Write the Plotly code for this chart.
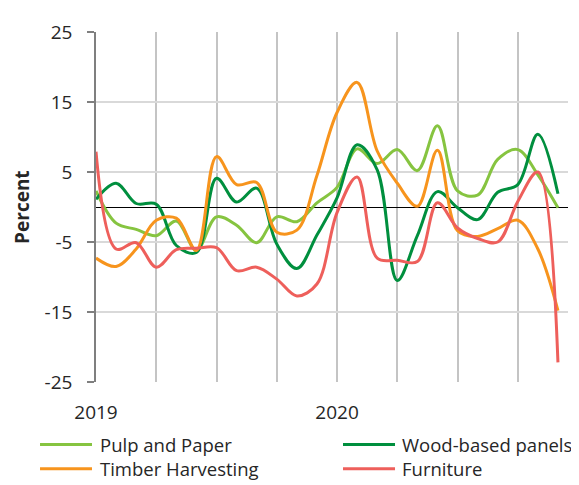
import plotly.graph_objects as go

months = ["2019-01", "2019-02", "2019-03", "2019-04", "2019-05", "2019-06",
          "2019-07", "2019-08", "2019-09", "2019-10", "2019-11", "2019-12",
          "2020-01", "2020-02", "2020-03", "2020-04", "2020-05", "2020-06",
          "2020-07", "2020-08", "2020-09", "2020-10", "2020-11", "2020-12"]

pulp_paper = [2.3, -2.3, -3.2, -4.1, -2.0, -6.2, -1.4, -2.6, -5.1, -1.4, -2.1, 0.6,
              2.8, 8.3, 6.2, 8.2, 5.2, 11.6, 2.3, 1.7, 6.8, 8.2, 4.6, -0.1]
wood_panels = [1.1, 3.4, 0.5, 0.4, -5.5, -6.5, 4.1, 0.7, 2.7, -5.3, -8.8, -4.0,
               1.3, 8.9, 5.3, -10.5, -4.1, 2.2, -0.1, -1.8, 2.1, 3.2, 10.4, 1.9]
timber = [-7.3, -8.5, -6.0, -1.9, -1.6, -6.2, 7.2, 3.2, 3.5, -3.6, -3.3, 4.5,
          13.5, 17.8, 8.0, 3.4, 0.1, 8.1, -3.4, -4.2, -3.1, -1.9, -6.0, -14.8]
furniture = [7.9, -6.0, -5.1, -8.6, -6.1, -5.9, -5.8, -9.1, -8.6, -10.3, -12.7, -11.0,
             -0.8, 4.3, -7.3, -7.6, -7.8, 0.6, -3.0, -4.5, -5.0, 0.8, 5.0, -22.2]

year_ticks = ["2019", "", "", "", "2020", "", "", ""]
y_ticks = [-25, -15, -5, 5, 15, 25]

series = [
    ("Pulp and Paper", pulp_paper, "#86c440"),
    ("Wood-based panels", wood_panels, "#008f3e"),
    ("Timber Harvesting", timber, "#f7941d"),
    ("Furniture", furniture, "#ee5f5b"),
]

FONT = "Open Sans"
TXT = "#262626"
FS = 19
LFS = 18.5

fig = go.Figure()
for name, vals, col in series:
    fig.add_trace(go.Scatter(
        x=months, y=vals, name=name, mode="lines", showlegend=False,
        line=dict(color=col, width=3, shape="spline", smoothing=1),
    ))

# legend key (two columns, two rows) drawn in paper coordinates
leg_cols = [(-0.1186, -0.0085, 0.0042), (0.5233, 0.6335, 0.644)]
leg_rows = [-0.1789, -0.2479]
shapes = []
col_text = {0: [], 1: []}
for i, (name, vals, col) in enumerate(series):
    r, c = divmod(i, 2)
    x0, x1, xt = leg_cols[c]
    yy = leg_rows[r]
    shapes.append(dict(type="line", xref="paper", yref="paper",
                       x0=x0, x1=x1, y0=yy, y1=yy,
                       line=dict(color=col, width=3)))
    col_text[c].append(name)

annotations = []
for c in (0, 1):
    annotations.append(dict(
        text="<br>".join(col_text[c]), xref="paper", yref="paper",
        x=leg_cols[c][2], y=sum(leg_rows) / 2, xanchor="left", yanchor="middle",
        align="left", showarrow=False,
        font=dict(family=FONT, size=LFS, color=TXT)))

annotations.append(dict(
    text="<b>Percent</b>", xref="paper", yref="paper",
    x=-0.157, y=0.5, xanchor="center", yanchor="middle",
    textangle=-90, showarrow=False,
    font=dict(family=FONT, size=FS, color=TXT),
))

fig.update_layout(
    width=571, height=477,
    margin=dict(l=88, r=11, t=19, b=103),
    paper_bgcolor="white", plot_bgcolor="white",
    font=dict(family=FONT, size=FS, color=TXT),
    showlegend=False,
    shapes=shapes,
    annotations=annotations,
)

fig.update_xaxes(
    type="category", range=[0, 23.5],
    tickvals=months[::3], ticktext=year_ticks,
    showgrid=True, gridcolor="#c4c4c4", gridwidth=1.5,
    ticks="outside", ticklen=13, tickcolor="rgba(0,0,0,0)",
    showline=False, zeroline=False,
    tickfont=dict(family=FONT, size=FS, color=TXT),
)
fig.update_yaxes(
    range=[-25, 25], tickvals=y_ticks, ticktext=[str(v) for v in y_ticks],
    showgrid=True, gridcolor="#d9d9d9", gridwidth=1.5,
    showline=True, linecolor="#7f7f7f", linewidth=1.5,
    ticks="outside", ticklen=7, tickcolor="#7f7f7f", tickwidth=1.5,
    ticklabelstandoff=11,
    zeroline=True, zerolinecolor="#000000", zerolinewidth=1,
    tickfont=dict(family=FONT, size=FS, color=TXT),
)

fig.write_html("out.html")
